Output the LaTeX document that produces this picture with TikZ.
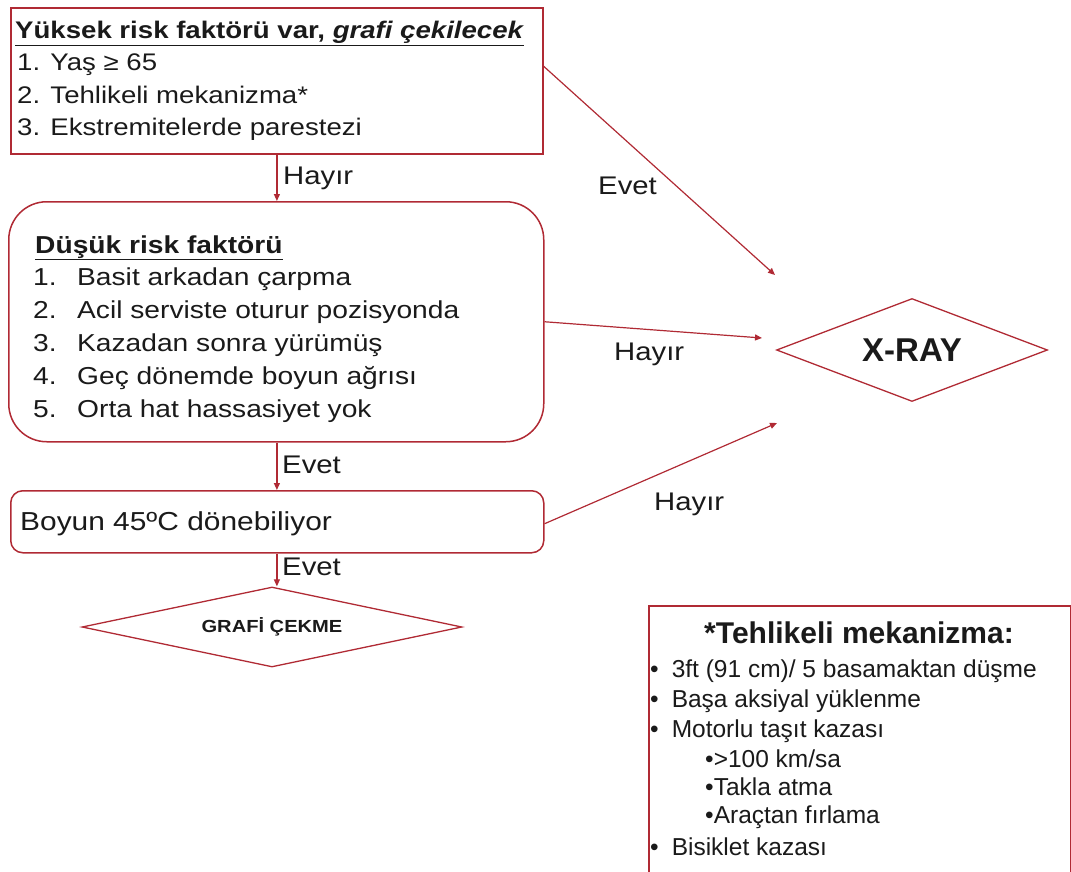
\documentclass[tikz,border=0pt]{standalone}
\usepackage{fontspec}
\setmainfont{Liberation Sans}
\newfontfamily\wide{Liberation Sans}[FakeStretch=1.15]
\usetikzlibrary{shapes.geometric,arrows.meta}
\definecolor{bred}{RGB}{176,42,52}
\definecolor{ink}{RGB}{26,26,26}
\begin{document}
\begin{tikzpicture}[x=1pt,y=-1pt,
  box/.style={draw=bred,line width=1.5pt,inner sep=0pt,anchor=north west},
  txt/.style={anchor=base west,inner sep=0pt,text=ink,font=\wide\fontsize{24.5}{33}\selectfont},
  ttxt/.style={txt,font=\wide\fontsize{24}{33}\selectfont},
  lbl/.style={anchor=base west,inner sep=0pt,text=ink,font=\wide\fontsize{25.5}{30}\selectfont},
  note/.style={anchor=base west,inner sep=0pt,text=ink,font=\fontsize{24.5}{29.5}\selectfont},
  dia/.style={draw=bred,line width=1.3pt,diamond,inner sep=0pt,text=ink},
  arr/.style={draw=bred,line width=1.2pt,-{Triangle[length=7pt,width=6pt]}}]
\useasboundingbox (0,0) rectangle (1071,872);
\clip (0,0) rectangle (1071,872);

% high risk box
\node[box,line width=1.8pt,minimum width=532pt,minimum height=146pt] (high) at (10,7.5) {};
\node[ttxt] (h0) at (15,38.5) {\underline{\textbf{Yüksek risk faktörü var, \textit{grafi çekilecek}}}};
\node[ttxt] (h1) at (17,71) {1. Yaş ≥ 65};
\node[ttxt] (h2) at (17,103.5) {2. Tehlikeli mekanizma*};
\node[ttxt] (h3) at (17,136) {3. Ekstremitelerde parestezi};

% low risk box
\node[box,rounded corners=38pt,minimum width=535pt,minimum height=240pt] (low) at (8,201) {};
\node[txt] (l0) at (35,253) {\underline{\textbf{Düşük risk faktörü}}};
\foreach \i/\t [count=\k from 0] in {1/Basit arkadan çarpma,2/Acil serviste oturur pozisyonda,3/Kazadan sonra yürümüş,4/Geç dönemde boyun ağrısı,5/Orta hat hassasiyet yok}{
  \node[txt] (ln\i) at (33,285.5+33*\k) {\i.};
  \node[txt] (lt\i) at (77,285.5+33*\k) {\t};
}

% neck box
\node[box,rounded corners=12pt,minimum width=533pt,minimum height=62pt] (neck) at (10,490) {};
\node[txt,font=\wide\fontsize{26}{30}\selectfont] (nt) at (20,530) {Boyun 45ºC dönebiliyor};

% diamonds
\node[dia,minimum width=380pt,minimum height=80pt,aspect=4.75,font=\wide\bfseries\fontsize{17.5}{20}\selectfont] (grafi) at (272,627) {GRAFİ ÇEKME};
\node[dia,minimum width=271pt,minimum height=103pt,aspect=2.6,font=\bfseries\fontsize{33}{36}\selectfont] (xray) at (912,350) {X-RAY};

% vertical arrows
\draw[arr] (high.south) -- (high.south |- low.north);
\draw[arr] (high.south |- low.south) -- (high.south |- neck.north);
\draw[arr] (high.south |- neck.south) -- (high.south |- grafi.north);
\node[lbl] (lb1) at (283,185) {Hayır};
\node[lbl] (lb2) at (282,473) {Evet};
\node[lbl] (lb3) at (282,575) {Evet};

% arrows towards X-RAY
\coordinate (e1) at (775,275);
\coordinate (e2) at (762,338);
\coordinate (e3) at (777,423);
\draw[arr] ([yshift=15pt]high.east) -- (e1);
\draw[arr] (low.east) -- (e2);
\draw[arr] ([yshift=-2pt]neck.east) -- (e3);
\node[lbl] (lb4) at (598,194) {Evet};
\node[lbl] (lb5) at (614,360) {Hayır};
\node[lbl] (lb6) at (654,510) {Hayır};

% footnote box
\node[box,line width=1.6pt,minimum width=422pt,minimum height=290pt] (fn) at (648,605) {};
\node[anchor=base,inner sep=0pt,text=ink,font=\bfseries\fontsize{30}{34}\selectfont] (ft) at (859,643) {*Tehlikeli mekanizma:};
\node[note] (f1) at (650,677) {•\hspace{13pt}3ft (91 cm)/ 5 basamaktan düşme};
\node[note] (f2) at (650,707) {•\hspace{13pt}Başa aksiyal yüklenme};
\node[note] (f3) at (650,737) {•\hspace{13pt}Motorlu taşıt kazası};
\node[note] (f4) at (705,767) {•>100 km/sa};
\node[note] (f5) at (705,795) {•Takla atma};
\node[note] (f6) at (705,823) {•Araçtan fırlama};
\node[note] (f7) at (650,855) {•\hspace{13pt}Bisiklet kazası};
\end{tikzpicture}
\end{document}
